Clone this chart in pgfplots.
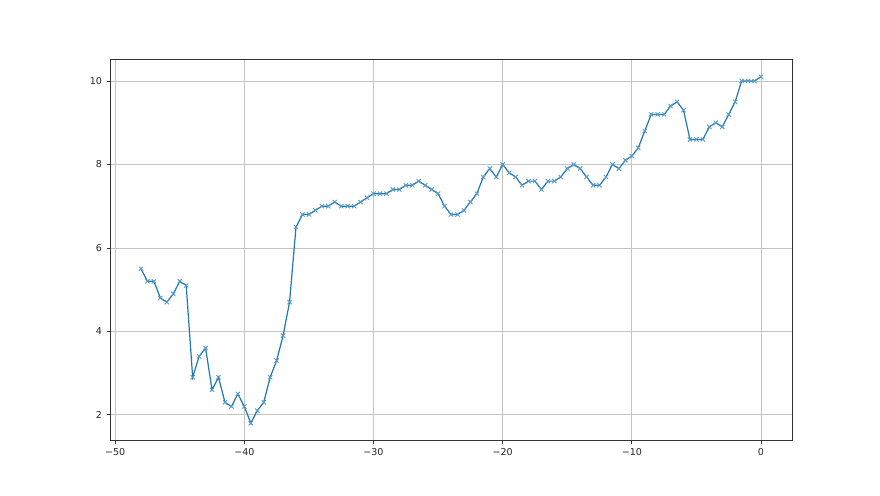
\documentclass[border=0pt]{standalone}
\usepackage{fontspec}
\setmainfont{DejaVu Sans}
\usepackage{pgfplots}
\pgfplotsset{compat=1.18}
\definecolor{mplblue}{HTML}{1F77B4}
\definecolor{mplgrid}{HTML}{C4C4C4}
\begin{document}
\begin{tikzpicture}[x=1pt,y=1pt]
\path[use as bounding box] (0,0) rectangle (880,495);
\begin{axis}[
  at={(110pt,54.5pt)}, anchor=south west,
  scale only axis, width=682pt, height=381pt,
  xmin=-50.4, xmax=2.4, ymin=1.385, ymax=10.515,
  xtick={-50,-40,-30,-20,-10,0},
  xticklabels={−50,−40,−30,−20,−10,0},
  ytick={2,4,6,8,10},
  yticklabels={2,4,6,8,10},
  grid=major,
  major grid style={draw=mplgrid, line width=0.7pt},
  axis line style={black!80, line width=0.8pt},
  tick align=outside, major tick length=3.5pt,
  tick style={black!80, line width=0.8pt},
  tick pos=left,
  ticklabel style={font=\fontsize{9.5}{12}\selectfont, text=black!85},
  xticklabel style={yshift=-1pt},
  yticklabel style={xshift=-1pt},
]
\addplot[color=mplblue, line width=1.2pt, mark=x, mark size=3pt, mark options={line width=0.9pt, color=mplblue!75}] coordinates {
(-48,5.5) (-47.5,5.2) (-47,5.2) (-46.5,4.8) (-46,4.7) (-45.5,4.9) (-45,5.2) (-44.5,5.1)
(-44,2.9) (-43.5,3.4) (-43,3.6) (-42.5,2.6) (-42,2.9) (-41.5,2.3) (-41,2.2) (-40.5,2.5)
(-40,2.2) (-39.5,1.8) (-39,2.1) (-38.5,2.3) (-38,2.9) (-37.5,3.3) (-37,3.9) (-36.5,4.7)
(-36,6.5) (-35.5,6.8) (-35,6.8) (-34.5,6.9) (-34,7.0) (-33.5,7.0) (-33,7.1) (-32.5,7.0)
(-32,7.0) (-31.5,7.0) (-31,7.1) (-30.5,7.2) (-30,7.3) (-29.5,7.3) (-29,7.3) (-28.5,7.4)
(-28,7.4) (-27.5,7.5) (-27,7.5) (-26.5,7.6) (-26,7.5) (-25.5,7.4) (-25,7.3) (-24.5,7.0)
(-24,6.8) (-23.5,6.8) (-23,6.9) (-22.5,7.1) (-22,7.3) (-21.5,7.7) (-21,7.9) (-20.5,7.7)
(-20,8.0) (-19.5,7.8) (-19,7.7) (-18.5,7.5) (-18,7.6) (-17.5,7.6) (-17,7.4) (-16.5,7.6)
(-16,7.6) (-15.5,7.7) (-15,7.9) (-14.5,8.0) (-14,7.9) (-13.5,7.7) (-13,7.5) (-12.5,7.5)
(-12,7.7) (-11.5,8.0) (-11,7.9) (-10.5,8.1) (-10,8.2) (-9.5,8.4) (-9,8.8) (-8.5,9.2)
(-8,9.2) (-7.5,9.2) (-7,9.4) (-6.5,9.5) (-6,9.3) (-5.5,8.6) (-5,8.6) (-4.5,8.6)
(-4,8.9) (-3.5,9.0) (-3,8.9) (-2.5,9.2) (-2,9.5) (-1.5,10.0) (-1,10.0) (-0.5,10.0)
(0,10.1)
};
\end{axis}
\end{tikzpicture}
\end{document}
